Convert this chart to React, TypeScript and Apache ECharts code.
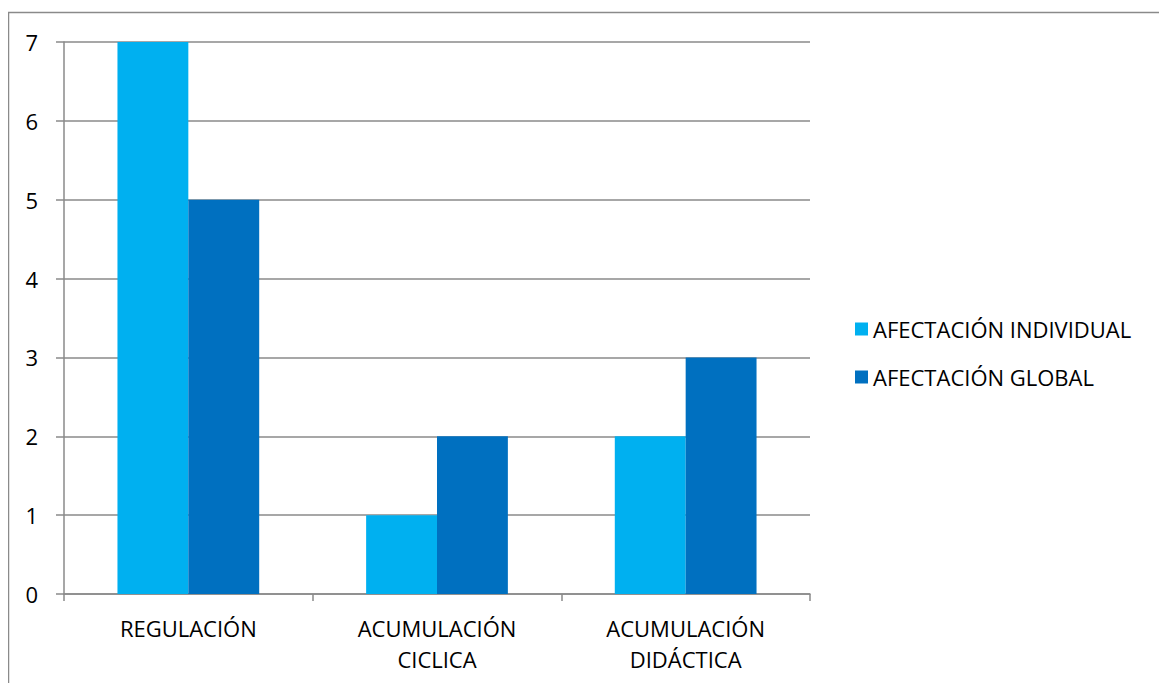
import React, { useEffect, useRef } from "react";
import * as echarts from "echarts";

const categories = ["REGULACIÓN", "ACUMULACIÓN\nCICLICA", "ACUMULACIÓN\nDIDÁCTICA"];
const individual = [7, 1, 2];
const global = [5, 2, 3];
const seriesNames = ["AFECTACIÓN INDIVIDUAL", "AFECTACIÓN GLOBAL"];
const yTicks = { min: 0, max: 7, interval: 1 };

const FONT = "'Open Sans', 'Noto Sans', sans-serif";
const GRID_COLOR = "#8a8a8a";

export default function App() {
  const ref = useRef<HTMLDivElement>(null);

  useEffect(() => {
    if (!ref.current) return;
    const chart = echarts.init(ref.current, undefined, { renderer: "svg" });
    chart.setOption({
      animation: false,
      backgroundColor: "#ffffff",
      textStyle: { fontFamily: FONT },
      graphic: [
        {
          type: "rect",
          shape: { x: 0.5, y: 4.5, width: 1300, height: 800 },
          style: { fill: "none", stroke: GRID_COLOR, lineWidth: 1.5 },
          silent: true,
        },
      ],
      grid: { left: 56, right: 357, top: 34, bottom: 89, containLabel: false },
      legend: {
        orient: "vertical",
        left: 842,
        top: 304,
        itemWidth: 13,
        itemHeight: 13,
        itemGap: 24,
        icon: "rect",
        data: seriesNames,
        textStyle: { fontFamily: FONT, fontSize: 22, lineHeight: 24, color: "#000" },
      },
      xAxis: {
        type: "category",
        data: categories,
        axisLine: { show: true, lineStyle: { color: GRID_COLOR, width: 1.5 } },
        axisTick: { show: true, length: 7, lineStyle: { color: GRID_COLOR, width: 1.5 } },
        axisLabel: {
          fontFamily: FONT,
          fontSize: 22,
          color: "#000",
          margin: 18,
          lineHeight: 31,
        },
      },
      yAxis: {
        type: "value",
        min: yTicks.min,
        max: yTicks.max,
        interval: yTicks.interval,
        axisLine: { show: true, lineStyle: { color: GRID_COLOR, width: 1.5 } },
        axisTick: { show: true, length: 8, lineStyle: { color: GRID_COLOR, width: 1.5 } },
        splitLine: { show: true, lineStyle: { color: GRID_COLOR, width: 1.5 } },
        axisLabel: { fontFamily: FONT, fontSize: 22, color: "#000", margin: 26 },
      },
      series: [
        {
          name: seriesNames[0],
          type: "bar",
          data: individual,
          itemStyle: { color: "#00B0F0" },
          barGap: "0%",
          barCategoryGap: "43%",
        },
        {
          name: seriesNames[1],
          type: "bar",
          data: global,
          itemStyle: { color: "#0070C0" },
          barGap: "0%",
          barCategoryGap: "43%",
        },
      ],
    });
    return () => chart.dispose();
  }, []);

  return <div ref={ref} style={{ width: 1159, height: 675 }} />;
}
